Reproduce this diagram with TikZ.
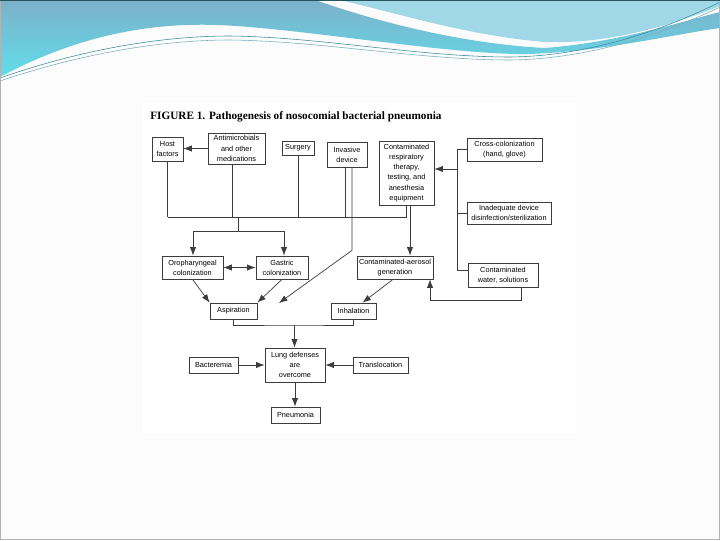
\documentclass[tikz,border=0pt]{standalone}
\usepackage{fontspec}
\setmainfont{Liberation Serif}
\setsansfont{Liberation Sans}
\usetikzlibrary{arrows.meta,calc}
\definecolor{slidegray}{RGB}{252,252,252}
\definecolor{wavedark}{RGB}{125,176,202}
\definecolor{wavecyan}{RGB}{96,222,234}
\definecolor{wavelight}{RGB}{160,216,232}
\definecolor{waveline}{RGB}{62,140,160}
\definecolor{boxline}{RGB}{60,60,60}

\begin{document}
\begin{tikzpicture}[x=0.025cm,y=-0.025cm,
    box/.style 2 args={draw=boxline,line width=0.5pt,fill=white,align=center,
        font=\sffamily\fontsize{5.2}{7.2}\selectfont,inner sep=0pt,
        minimum width=#1*0.025cm,minimum height=#2*0.025cm},
    link/.style={draw=boxline,line width=0.5pt},
    arr/.style={link,-{Latex[length=6pt,width=4.4pt]}},
    arrs/.style={link,{Latex[length=6pt,width=4.4pt]}-{Latex[length=6pt,width=4.4pt]}}]
            \useasboundingbox (0,0) rectangle (720,540);

            % Slide
            \fill[slidegray] (0,0) rectangle (720,540);
            \fill[white] (143,103) rectangle (576,433);

            % Waves
            \fill[wavelight] (340,0) -- (720,0) -- (720,6) .. controls (660,30) and (600,44) .. (545,42)
                .. controls (470,36) and (400,14) .. (340,0) -- cycle;
            \shade[top color=wavedark,bottom color=wavecyan] (0,0) -- (315,0)
                .. controls (390,26) and (470,44) .. (545,48) .. controls (620,42) and (680,22) .. (720,12)
                -- (720,28) .. controls (670,35) and (600,52) .. (527,54)
                .. controls (450,55) and (300,28) .. (217,25) .. controls (130,22) and (60,45) .. (0,77) -- cycle;
            \draw[waveline,line width=0.4pt] (0,78) .. controls (80,50) and (160,36) .. (230,36)
                .. controls (320,37) and (420,57) .. (510,57) .. controls (600,56) and (680,22) .. (720,2);
            \draw[waveline!70,line width=0.4pt] (0,81) .. controls (80,54) and (160,40) .. (230,40)
                .. controls (320,41) and (420,60) .. (510,60) .. controls (600,59) and (680,26) .. (720,7);
            \draw[gray!60,line width=0.6pt] (0.5,0.5) rectangle (719.5,539.5);
            \draw[waveline!60!black,line width=0.6pt] (0,0.5) -- (720,0.5);

            % Title
            \node[anchor=base west,font=\bfseries\fontsize{8}{9.5}\selectfont,inner sep=0pt] (title) at (150,119)
                {FIGURE 1. Pathogenesis of nosocomial bacterial pneumonia};

            % Risk factors
            \node[box={31}{24}] (host) at (167.5,149) {Host\\factors};
            \node[box={57}{31}] (anti) at (236.5,148.5) {Antimicrobials\\and other\\medications};
            \node[box={32}{14}] (surg) at (298,148) {Surgery};
            \node[box={40}{25}] (inv) at (347,154.5) {Invasive\\device};
            \node[box={55}{64}] (resp) at (406.5,173) {Contaminated\\respiratory\\therapy,\\testing, and\\anesthesia\\equipment};

            % Sources of contamination
            \node[box={75}{23}] (cross) at (504.5,149.5) {Cross-colonization\\(hand, glove)};
            \node[box={84}{22}] (inad) at (509,213) {Inadequate device\\disinfection/sterilization};
            \node[box={70}{24}] (water) at (503,275) {Contaminated\\water, solutions};

            % Colonization
            \node[box={61}{23}] (oro) at (192.5,267.5) {Oropharyngeal\\colonization};
            \node[box={52}{23}] (gas) at (282,267.5) {Gastric\\colonization};
            \node[box={76}{23}] (aero) at (395,267.5) {Contaminated-aerosol\\generation};

            % Routes
            \node[box={47}{16}] (asp) at (233.5,311) {Aspiration};
            \node[box={45}{16}] (inh) at (353.5,311) {Inhalation};

            % Outcome
            \node[box={60}{34}] (lung) at (295,365) {Lung defenses\\are\\overcome};
            \node[box={49}{16}] (bact) at (213.5,365) {Bacteremia};
            \node[box={55}{16}] (trans) at (380.5,365) {Translocation};
            \node[box={49}{16}] (pneu) at (295.5,415) {Pneumonia};

            % Offsets for lines leaving a box off-centre
            \path ($(anti.south)+(-4,0)$) coordinate (antiB)
                  ($(inv.south)+(-2,0)$) coordinate (invB)
                  ($(inv.south)+(5,0)$) coordinate (invC)
                  ($(resp.south)+(3.5,0)$) coordinate (respC);

            % Bus under the risk factors
            \coordinate (busL) at (168,217);
            \draw[arr] (anti.west) -- (anti.west -| host.east);
            \draw[link] (host.south) -- (host.south |- busL);
            \draw[link] (antiB) -- (antiB |- busL);
            \draw[link] (surg.south) -- (surg.south |- busL);
            \draw[link] (invB) -- (invB |- busL);
            \draw[link] (resp.south) -- (resp.south |- busL);
            \draw[link] (busL) -- (resp.south |- busL);

            % Split to colonization
            \coordinate (splitT) at (238,217);
            \coordinate (splitL) at (193,231);
            \coordinate (splitR) at (284,231);
            \draw[link] (splitT) -- (splitT |- splitL);
            \draw[link] (splitL) -- (splitR);
            \draw[arr] (splitL) -- (splitL |- oro.north);
            \draw[arr] (splitR) -- (splitR |- gas.north);
            \draw[arrs] (oro.east) -- (gas.west);

            % Invasive device
            \coordinate (invTip) at (279,303);
            \draw[arr] (invC) -- ++(0,83) -- (invTip);

            % Into aspiration and inhalation
            \draw[arr] (oro.south) -- (asp.north west);
            \draw[arr] (gas.south) -- (asp.north east);
            \draw[arr] (respC) -- (respC |- aero.north);
            \draw[arr] ($(aero.south)+(-2,0)$) -- ($(inh.north)+(9,0)$);

            % Contamination bus
            \coordinate (vbusT) at (457,149.5);
            \coordinate (vbusM) at (457,169);
            \coordinate (vbusB) at (457,270);
            \draw[link] (cross.west) -- (vbusT) -- (vbusB) -- (vbusB -| water.west);
            \draw[link] (inad.west) -- (inad.west -| vbusT);
            \draw[arr] (vbusM) -- (vbusM -| resp.east);
            \draw[arr] ($(water.south)+(18.5,0)$) -- ++(0,13) -| ($(aero.south)+(35,0)$);

            % Down to lung defenses
            \coordinate (join) at (294.5,325);
            \draw[link] (asp.south) |- (join) -| (inh.south);
            \draw[arr] (join) -- (join |- lung.north);
            \draw[arr] (bact.east) -- (lung.west);
            \draw[arr] (trans.west) -- (lung.east);
            \draw[arr] (lung.south) -- (lung.south |- pneu.north);
        \end{tikzpicture}
\end{document}
